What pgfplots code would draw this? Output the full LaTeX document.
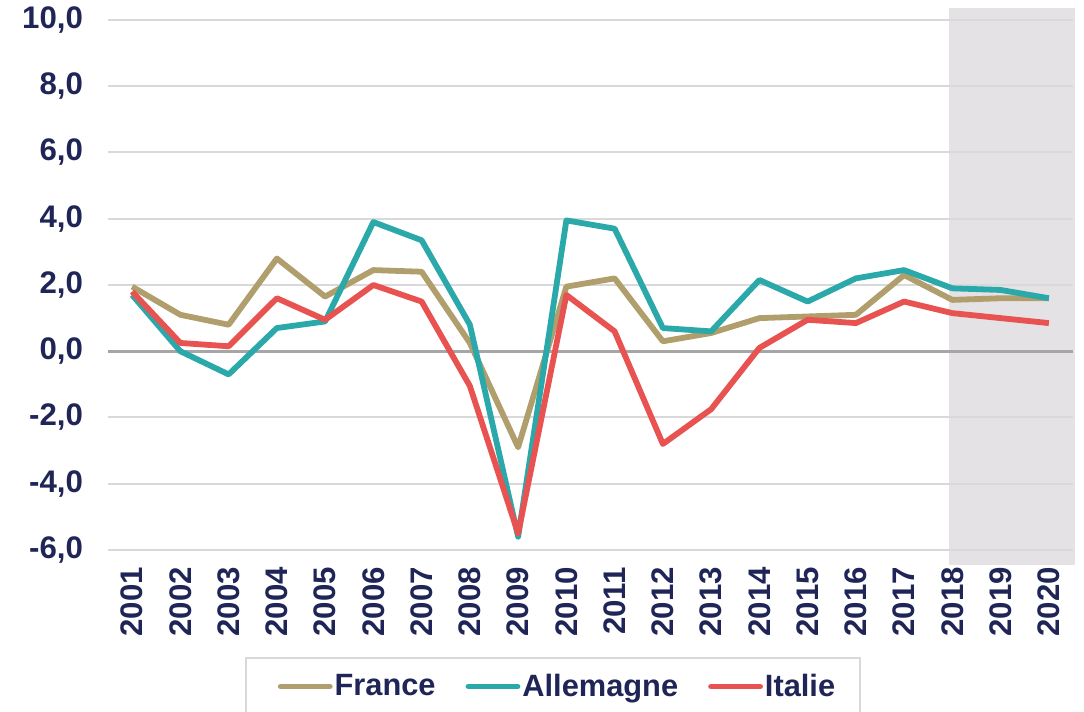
\documentclass[border=0pt]{standalone}
\usepackage{pgfplots}
\pgfplotsset{compat=1.18}
\usepackage{fontspec}
\setmainfont{Liberation Sans}

\definecolor{navy}{RGB}{31,37,86}
\definecolor{frtan}{RGB}{176,158,108}
\definecolor{deteal}{RGB}{42,168,170}
\definecolor{itred}{RGB}{232,82,80}
\definecolor{gridgray}{RGB}{217,217,217}
\definecolor{zerogray}{RGB}{166,166,166}
\definecolor{shadegray}{RGB}{228,226,228}

\begin{document}
\begin{tikzpicture}
\begin{axis}[
  set layers,
  scale only axis,
  width=482.5pt, height=265pt,
  xmin=2000.5, xmax=2020.5,
  ymin=-6, ymax=10,
  clip=false,
  xtick={2001,...,2020},
  ytick={-6,-4,...,10},
  major tick length=0pt,
  axis line style={draw=none},
  ymajorgrids=true,
  grid style={gridgray, line width=1pt},
  /pgf/number format/assume math mode=true,
  every tick label/.append style={font=\bfseries\fontsize{15.6}{18}\selectfont, text=navy},
  xticklabel style={rotate=90, anchor=east, xshift=-5pt, /pgf/number format/1000 sep={}},
  yticklabel style={xshift=-9pt, /pgf/number format/.cd, fixed, fixed zerofill, precision=1, use comma},
  legend columns=3,
  legend style={at={(0.142,-0.202)}, anchor=north west, draw=gridgray, line width=0.8pt,
    font=\bfseries\fontsize{15.4}{17}\selectfont, text=navy,
    inner xsep=10.5pt, inner ysep=6pt,
    /tikz/every odd column/.append style={column sep=-1pt},
    /tikz/every even column/.append style={column sep=7.5pt}},
  legend image code/.code={\path (0pt,0pt); \draw[#1, line cap=round] (5.5pt,0pt) -- (30pt,0pt);},
  every axis plot/.append style={line width=2.9pt, line join=round},
]
\begin{pgfonlayer}{axis background}
\fill[shadegray] (axis cs:2017.94,-6.45) rectangle (axis cs:2020.55,10.36);
\end{pgfonlayer}
\addplot[zerogray, line width=1.4pt, forget plot] coordinates {(2000.5,0) (2020.5,0)};
% France
\addplot[frtan] coordinates {
  (2001,1.95) (2002,1.1) (2003,0.8) (2004,2.8) (2005,1.65) (2006,2.45) (2007,2.4)
  (2008,0.25) (2009,-2.9) (2010,1.95) (2011,2.2) (2012,0.3) (2013,0.55) (2014,1.0)
  (2015,1.05) (2016,1.1) (2017,2.3) (2018,1.55) (2019,1.6) (2020,1.6)
};
\addlegendentry{France}
% Allemagne
\addplot[deteal] coordinates {
  (2001,1.7) (2002,0.0) (2003,-0.7) (2004,0.7) (2005,0.9) (2006,3.9) (2007,3.35)
  (2008,0.8) (2009,-5.6) (2010,3.95) (2011,3.7) (2012,0.7) (2013,0.6) (2014,2.15)
  (2015,1.5) (2016,2.2) (2017,2.45) (2018,1.9) (2019,1.85) (2020,1.6)
};
\addlegendentry{Allemagne}
% Italie
\addplot[itred] coordinates {
  (2001,1.8) (2002,0.25) (2003,0.15) (2004,1.6) (2005,0.95) (2006,2.0) (2007,1.5)
  (2008,-1.05) (2009,-5.5) (2010,1.7) (2011,0.6) (2012,-2.8) (2013,-1.75) (2014,0.1)
  (2015,0.95) (2016,0.85) (2017,1.5) (2018,1.15) (2019,1.0) (2020,0.85)
};
\addlegendentry{Italie}
\end{axis}
\pgfresetboundingbox
\path[use as bounding box] ([shift={(-54pt,-81pt)}]current axis.south west) rectangle ([shift={(488pt,275pt)}]current axis.south west);
\end{tikzpicture}
\end{document}
